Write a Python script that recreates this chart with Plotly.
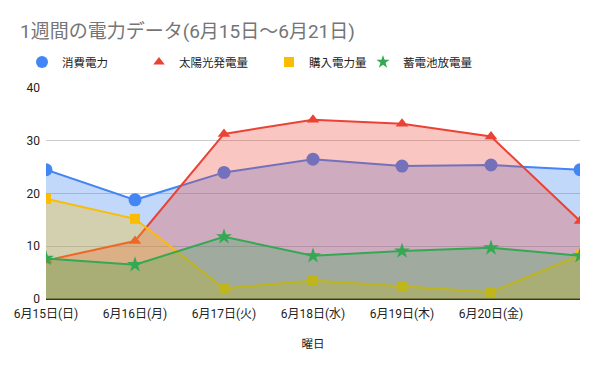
import plotly.graph_objects as go

categories = ["6月15日(日)", "6月16日(月)", "6月17日(火)", "6月18日(水)", "6月19日(木)", "6月20日(金)", "6月21日(土)"]
shown_ticks = categories[:6]
consumption = [24.5, 18.8, 24.0, 26.5, 25.2, 25.4, 24.5]
solar = [7.3, 11.0, 31.3, 34.0, 33.2, 30.8, 14.8]
purchased = [19.0, 15.2, 2.0, 3.5, 2.4, 1.3, 8.3]
battery = [7.7, 6.5, 11.8, 8.2, 9.1, 9.7, 8.2]

series = [
    ("消費電力", consumption, "#4285F4", "rgba(66,133,244,0.32)", "circle", 13, "legend"),
    ("太陽光発電量", solar, "#EA4335", "rgba(234,67,53,0.30)", "triangle-up", 11, "legend2"),
    ("購入電力量", purchased, "#FBBC04", "rgba(251,188,4,0.30)", "square", 10, "legend3"),
    ("蓄電池放電量", battery, "#34A853", "rgba(52,168,83,0.30)", "star", 12, "legend4"),
]

# The page body has an 8px default margin; all positions are shifted back by 8px.
OFF = 8
W, H = 600, 371

FONT = "Roboto, Arial, 'Noto Sans CJK JP', sans-serif"
fig = go.Figure()
for name, vals, col, fcol, sym, sz, lg in series:
    fig.add_trace(go.Scatter(
        x=categories, y=vals, mode="lines+markers", name=name,
        line=dict(color=col, width=2), marker=dict(symbol=sym, size=sz, color=col),
        fill="tozeroy", fillcolor=fcol, showlegend=False, hoverinfo="skip",
    ))
for name, vals, col, fcol, sym, sz, lg in series:
    fig.add_trace(go.Scatter(
        x=[None], y=[None], mode="markers", name=name, legend=lg,
        marker=dict(symbol=sym, size=12 if sym == "circle" else 10, color=col),
        showlegend=True,
    ))

legend_x = [22, 139, 269, 363]
leg = {}
for i, key in enumerate(["legend", "legend2", "legend3", "legend4"]):
    leg[key] = dict(
        x=(legend_x[i] - OFF) / W, y=1 - (62 - OFF) / H, xref="container", yref="container",
        xanchor="left", yanchor="middle", orientation="h",
        font=dict(family=FONT, size=11.5, color="#222222"),
        bgcolor="rgba(0,0,0,0)", itemclick=False,
    )

fig.update_layout(
    width=W, height=H,
    margin=dict(l=46 - OFF, r=20 + OFF, t=88 - OFF, b=72 + OFF, autoexpand=False),
    paper_bgcolor="white", plot_bgcolor="white",
    title=dict(text="1週間の電力データ(6月15日～6月21日)", x=(20 - OFF) / W, xanchor="left",
               y=1 - (31 - OFF) / H, yanchor="middle",
               font=dict(family=FONT, size=19, color="#757575")),
    font=dict(family=FONT, size=11, color="#222222"),
    xaxis=dict(
        type="category", range=[0, 6], tickvals=shown_ticks, ticktext=shown_ticks,
        showgrid=False, zeroline=False, showline=False, ticks="",
        ticklabelstandoff=6,
        tickfont=dict(family=FONT, size=12, color="#222222"),
        title=dict(text="曜日", font=dict(family=FONT, size=11.5, color="#222222"), standoff=19),
        fixedrange=True, automargin=False,
    ),
    yaxis=dict(
        range=[0, 40], dtick=10, showgrid=True, gridcolor="#cccccc", gridwidth=1,
        zeroline=True, zerolinecolor="#333333", zerolinewidth=1.5,
        showline=False, ticks="", ticklabelstandoff=5,
        tickfont=dict(family=FONT, size=12, color="#222222"), fixedrange=True,
        automargin=False,
    ),
    **leg,
)

fig.write_html("out.html")
